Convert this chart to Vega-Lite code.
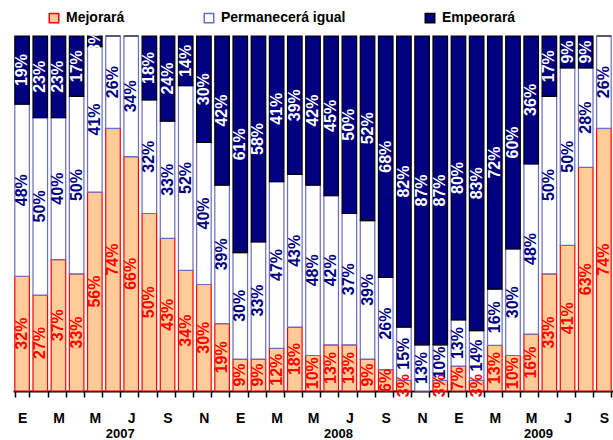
{
  "$schema": "https://vega.github.io/schema/vega-lite/v6.json",
  "width": 600,
  "height": 355,
  "autosize": "none",
  "padding": {"left": 13, "top": 36, "right": 0, "bottom": 49},
  "background": "white",
  "config": {"view": {"stroke": null}, "font": "Liberation Sans"},
  "datasets": {"d": [
    {"f":"2007-01","c":"Mejorará","v":32,"o":1},{"f":"2007-01","c":"Permanecerá igual","v":48,"o":2},{"f":"2007-01","c":"Empeorará","v":19,"o":3},
    {"f":"2007-02","c":"Mejorará","v":27,"o":1},{"f":"2007-02","c":"Permanecerá igual","v":50,"o":2},{"f":"2007-02","c":"Empeorará","v":23,"o":3},
    {"f":"2007-03","c":"Mejorará","v":37,"o":1},{"f":"2007-03","c":"Permanecerá igual","v":40,"o":2},{"f":"2007-03","c":"Empeorará","v":23,"o":3},
    {"f":"2007-04","c":"Mejorará","v":33,"o":1},{"f":"2007-04","c":"Permanecerá igual","v":50,"o":2},{"f":"2007-04","c":"Empeorará","v":17,"o":3},
    {"f":"2007-05","c":"Mejorará","v":56,"o":1},{"f":"2007-05","c":"Permanecerá igual","v":41,"o":2},{"f":"2007-05","c":"Empeorará","v":3,"o":3},
    {"f":"2007-06","c":"Mejorará","v":74,"o":1},{"f":"2007-06","c":"Permanecerá igual","v":26,"o":2},{"f":"2007-06","c":"Empeorará","v":0,"o":3},
    {"f":"2007-07","c":"Mejorará","v":66,"o":1},{"f":"2007-07","c":"Permanecerá igual","v":34,"o":2},{"f":"2007-07","c":"Empeorará","v":0,"o":3},
    {"f":"2007-08","c":"Mejorará","v":50,"o":1},{"f":"2007-08","c":"Permanecerá igual","v":32,"o":2},{"f":"2007-08","c":"Empeorará","v":18,"o":3},
    {"f":"2007-09","c":"Mejorará","v":43,"o":1},{"f":"2007-09","c":"Permanecerá igual","v":33,"o":2},{"f":"2007-09","c":"Empeorará","v":24,"o":3},
    {"f":"2007-10","c":"Mejorará","v":34,"o":1},{"f":"2007-10","c":"Permanecerá igual","v":52,"o":2},{"f":"2007-10","c":"Empeorará","v":14,"o":3},
    {"f":"2007-11","c":"Mejorará","v":30,"o":1},{"f":"2007-11","c":"Permanecerá igual","v":40,"o":2},{"f":"2007-11","c":"Empeorará","v":30,"o":3},
    {"f":"2007-12","c":"Mejorará","v":19,"o":1},{"f":"2007-12","c":"Permanecerá igual","v":39,"o":2},{"f":"2007-12","c":"Empeorará","v":42,"o":3},
    {"f":"2008-01","c":"Mejorará","v":9,"o":1},{"f":"2008-01","c":"Permanecerá igual","v":30,"o":2},{"f":"2008-01","c":"Empeorará","v":61,"o":3},
    {"f":"2008-02","c":"Mejorará","v":9,"o":1},{"f":"2008-02","c":"Permanecerá igual","v":33,"o":2},{"f":"2008-02","c":"Empeorará","v":58,"o":3},
    {"f":"2008-03","c":"Mejorará","v":12,"o":1},{"f":"2008-03","c":"Permanecerá igual","v":47,"o":2},{"f":"2008-03","c":"Empeorará","v":41,"o":3},
    {"f":"2008-04","c":"Mejorará","v":18,"o":1},{"f":"2008-04","c":"Permanecerá igual","v":43,"o":2},{"f":"2008-04","c":"Empeorará","v":39,"o":3},
    {"f":"2008-05","c":"Mejorará","v":10,"o":1},{"f":"2008-05","c":"Permanecerá igual","v":48,"o":2},{"f":"2008-05","c":"Empeorará","v":42,"o":3},
    {"f":"2008-06","c":"Mejorará","v":13,"o":1},{"f":"2008-06","c":"Permanecerá igual","v":42,"o":2},{"f":"2008-06","c":"Empeorará","v":45,"o":3},
    {"f":"2008-07","c":"Mejorará","v":13,"o":1},{"f":"2008-07","c":"Permanecerá igual","v":37,"o":2},{"f":"2008-07","c":"Empeorará","v":50,"o":3},
    {"f":"2008-08","c":"Mejorará","v":9,"o":1},{"f":"2008-08","c":"Permanecerá igual","v":39,"o":2},{"f":"2008-08","c":"Empeorará","v":52,"o":3},
    {"f":"2008-09","c":"Mejorará","v":6,"o":1},{"f":"2008-09","c":"Permanecerá igual","v":26,"o":2},{"f":"2008-09","c":"Empeorará","v":68,"o":3},
    {"f":"2008-10","c":"Mejorará","v":3,"o":1},{"f":"2008-10","c":"Permanecerá igual","v":15,"o":2},{"f":"2008-10","c":"Empeorará","v":82,"o":3},
    {"f":"2008-11","c":"Mejorará","v":0,"o":1},{"f":"2008-11","c":"Permanecerá igual","v":13,"o":2},{"f":"2008-11","c":"Empeorará","v":87,"o":3},
    {"f":"2008-12","c":"Mejorará","v":3,"o":1},{"f":"2008-12","c":"Permanecerá igual","v":10,"o":2},{"f":"2008-12","c":"Empeorará","v":87,"o":3},
    {"f":"2009-01","c":"Mejorará","v":7,"o":1},{"f":"2009-01","c":"Permanecerá igual","v":13,"o":2},{"f":"2009-01","c":"Empeorará","v":80,"o":3},
    {"f":"2009-02","c":"Mejorará","v":3,"o":1},{"f":"2009-02","c":"Permanecerá igual","v":14,"o":2},{"f":"2009-02","c":"Empeorará","v":83,"o":3},
    {"f":"2009-03","c":"Mejorará","v":13,"o":1},{"f":"2009-03","c":"Permanecerá igual","v":16,"o":2},{"f":"2009-03","c":"Empeorará","v":72,"o":3},
    {"f":"2009-04","c":"Mejorará","v":10,"o":1},{"f":"2009-04","c":"Permanecerá igual","v":30,"o":2},{"f":"2009-04","c":"Empeorará","v":60,"o":3},
    {"f":"2009-05","c":"Mejorará","v":16,"o":1},{"f":"2009-05","c":"Permanecerá igual","v":48,"o":2},{"f":"2009-05","c":"Empeorará","v":36,"o":3},
    {"f":"2009-06","c":"Mejorará","v":33,"o":1},{"f":"2009-06","c":"Permanecerá igual","v":50,"o":2},{"f":"2009-06","c":"Empeorará","v":17,"o":3},
    {"f":"2009-07","c":"Mejorará","v":41,"o":1},{"f":"2009-07","c":"Permanecerá igual","v":50,"o":2},{"f":"2009-07","c":"Empeorará","v":9,"o":3},
    {"f":"2009-08","c":"Mejorará","v":63,"o":1},{"f":"2009-08","c":"Permanecerá igual","v":28,"o":2},{"f":"2009-08","c":"Empeorará","v":9,"o":3},
    {"f":"2009-09","c":"Mejorará","v":74,"o":1},{"f":"2009-09","c":"Permanecerá igual","v":26,"o":2},{"f":"2009-09","c":"Empeorará","v":0,"o":3}
  ],
  "years": [
    {"f":"2007-06","yr":"2007"},{"f":"2008-06","yr":"2008"},{"f":"2009-05","yr":"2009"}
  ]},
  "layer": [
    {
      "data": {"name": "d"},
      "mark": {"type": "bar", "strokeWidth": 1.2},
      "encoding": {
        "x": {"field": "f", "type": "ordinal",
          "scale": {"paddingInner": 0.2, "paddingOuter": 0.1},
          "axis": {"orient": "bottom", "title": null, "labelAngle": 0, "tickBand": "extent",
            "labelExpr": "isString(datum.value) ? ({'01':'E','03':'M','05':'M','07':'J','09':'S','11':'N'}[slice(datum.value,5)] || '') : ''",
            "labelOverlap": false, "labelFontWeight": "bold", "labelFontSize": 14,
            "labelColor": "black", "labelPadding": 14, "domainColor": "black", "domainWidth": 2,
            "tickColor": "black", "tickWidth": 1.5, "tickSize": 6, "grid": false}},
        "y": {"field": "v", "type": "quantitative", "stack": "normalize", "scale": {"domain": [0, 1]}, "axis": null},
        "order": {"field": "o"},
        "fill": {"field": "c", "type": "nominal",
          "scale": {"domain": ["Mejorará", "Permanecerá igual", "Empeorará"], "range": ["#FFCC99", "#FFFFFF", "#000080"]},
          "legend": {"orient": "none", "legendX": 34, "legendY": -25, "direction": "horizontal", "title": null,
            "columnPadding": 76, "symbolType": "square", "symbolSize": 90, "symbolStrokeWidth": 1.5,
            "labelFontWeight": "bold", "labelFontSize": 14, "labelColor": "black", "labelOffset": 5}},
        "stroke": {"field": "c", "type": "nominal",
          "scale": {"domain": ["Mejorará", "Permanecerá igual", "Empeorará"], "range": ["#FF0000", "#6B6BC0", "#000000"]},
          "legend": {"orient": "none", "legendX": 34, "legendY": -25, "direction": "horizontal", "title": null,
            "columnPadding": 76, "symbolType": "square", "symbolSize": 90, "symbolStrokeWidth": 1.5,
            "labelFontWeight": "bold", "labelFontSize": 14, "labelColor": "black", "labelOffset": 5}}
      }
    },
    {
      "data": {"name": "d"},
      "transform": [
        {"stack": "v", "groupby": ["f"], "sort": [{"field": "o", "order": "ascending"}], "offset": "normalize", "as": ["y0", "y1"]},
        {"calculate": "(datum.y0 + datum.y1) / 2", "as": "ym"},
        {"calculate": "datum.v + '%'", "as": "lab"},
        {"filter": "datum.v > 0"}
      ],
      "mark": {"type": "text", "angle": 270, "fontWeight": "bold", "fontSize": 16},
      "encoding": {
        "x": {"field": "f", "type": "ordinal"},
        "y": {"field": "ym", "type": "quantitative"},
        "text": {"field": "lab", "type": "nominal"},
        "color": {"condition": [
          {"test": "datum.o == 1", "value": "#FF0000"},
          {"test": "datum.o == 2", "value": "#000080"}], "value": "#FFFFFF"}
      }
    },
    {
      "data": {"name": "years"},
      "mark": {"type": "text", "fontWeight": "bold", "fontSize": 13, "color": "black"},
      "encoding": {
        "x": {"field": "f", "type": "ordinal", "bandPosition": 1},
        "y": {"datum": -0.12, "type": "quantitative"},
        "text": {"field": "yr", "type": "nominal"}
      }
    }
  ]
}
